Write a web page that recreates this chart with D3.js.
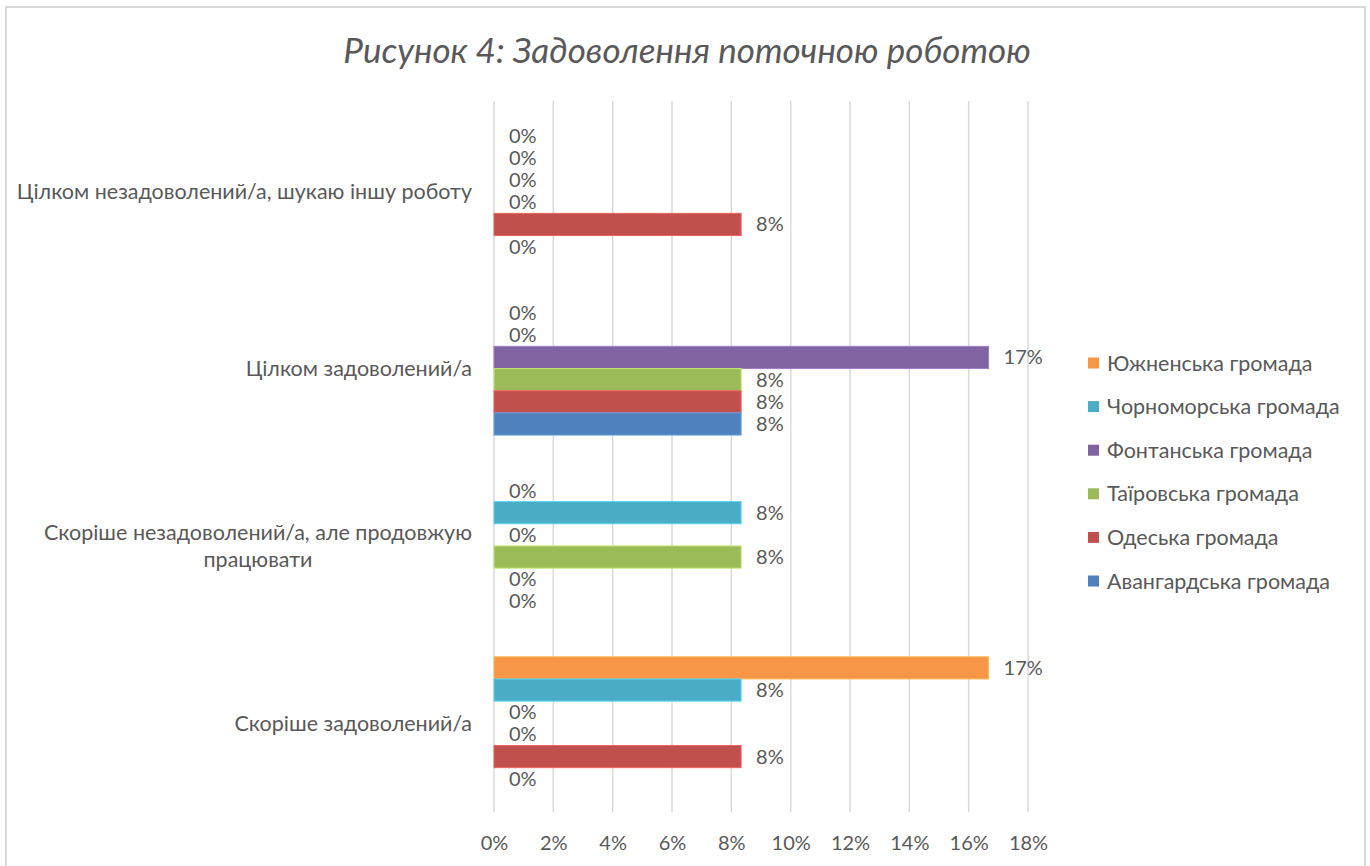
<!doctype html>
<html>
<head>
<meta charset="utf-8">
<style>
    body { margin: 0; background: #fff; }
    svg text { font-family: Lato, "Open Sans", sans-serif; fill: #595959; }
</style>
<script src="https://d3js.org/d3.v7.min.js"></script>
</head>
<body>
<svg width="1370" height="866"></svg>
<script>
// categories, top to bottom as drawn
var categories = [
    "Цілком незадоволений/а, шукаю іншу роботу",
    "Цілком задоволений/а",
    "Скоріше незадоволений/а, але продовжую працювати",
    "Скоріше задоволений/а"
];
// series, top to bottom inside each group (same order as legend)
var seriesNames = [
    "Южненська громада",
    "Чорноморська громада",
    "Фонтанська громада",
    "Таїровська громада",
    "Одеська громада",
    "Авангардська громада"
];
var seriesColors = ["#f79646", "#4bacc6", "#8064a2", "#9bbb59", "#c0504d", "#4f81bd"];

// share of respondents per series, one value per category (same order as categories)
var yuzhne      = [0,      0,      0,      0.1667];
var chornomorsk = [0,      0,      0.0833, 0.0833];
var fontanka    = [0,      0.1667, 0,      0];
var tairove     = [0,      0.0833, 0.0833, 0];
var odesa       = [0.0833, 0.0833, 0,      0.0833];
var avangard    = [0,      0.0833, 0,      0];
var seriesValues = [yuzhne, chornomorsk, fontanka, tairove, odesa, avangard];

var xTicks = [0, 0.02, 0.04, 0.06, 0.08, 0.10, 0.12, 0.14, 0.16, 0.18];

var svg = d3.select("svg");

// chart frame
svg.append("rect")
   .attr("x", 6).attr("y", 7)
   .attr("width", 1359).attr("height", 880)
   .attr("fill", "#fff")
   .attr("stroke", "#d9d9d9")
   .attr("stroke-width", 2);

// title
svg.append("text")
   .attr("x", 687).attr("y", 63)
   .attr("text-anchor", "middle")
   .style("font-size", "35px")
   .style("font-style", "italic")
   .text("Рисунок 4: Задоволення поточною роботою");

var xScale = d3.scaleLinear().domain([0, 0.18]).range([494, 1028]);
var yScale = d3.scaleBand().domain(categories).range([102.5, 812]);
var inner = d3.scaleBand().domain(seriesNames).range([0, yScale.bandwidth()])
              .paddingInner(0).paddingOuter(1);

// gridlines
svg.append("g")
   .selectAll("line")
   .data(xTicks)
   .enter().append("line")
   .attr("x1", function(d) { return xScale(d); })
   .attr("x2", function(d) { return xScale(d); })
   .attr("y1", 101).attr("y2", 812)
   .attr("stroke", "#d9d9d9")
   .attr("stroke-width", 1.5);

// x axis labels
var xAxis = svg.append("g")
   .attr("transform", "translate(0,812)")
   .call(d3.axisBottom(xScale).tickValues(xTicks).tickFormat(d3.format(".0%")).tickSize(0).tickPadding(24));
xAxis.select(".domain").remove();
xAxis.selectAll("text")
     .style("font-size", "20px")
     .attr("fill", "#595959")
     .style("font-family", "Lato, sans-serif");

// category labels (the long one wraps before its last word)
var catGroup = svg.append("g");
categories.forEach(function(c) {
    var cy = yScale(c) + yScale.bandwidth() / 2;
    var lines = [c];
    if (c.length > 45) {
        var cut = c.lastIndexOf(" ");
        lines = [c.slice(0, cut), c.slice(cut + 1)];
    }
    var t = catGroup.append("text")
       .attr("text-anchor", "middle")
       .style("font-size", "21.5px");
    lines.forEach(function(l, i) {
        t.append("tspan")
         .attr("x", 0)
         .attr("y", cy + (i - (lines.length - 1) / 2) * 27)
         .attr("dy", "0.35em")
         .text(l);
    });
    // right-align the block, lines centred on each other
    var w = t.node().getBBox().width;
    t.selectAll("tspan").attr("x", 472 - w / 2);
});

// bars
var rows = [];
seriesNames.forEach(function(s, si) {
    categories.forEach(function(c, ci) {
        rows.push({ series: s, cat: c, value: seriesValues[si][ci], color: seriesColors[si] });
    });
});

svg.append("g")
   .selectAll("rect")
   .data(rows.filter(function(d) { return d.value > 0; }))
   .enter().append("rect")
   .attr("x", xScale(0))
   .attr("y", function(d) { return yScale(d.cat) + inner(d.series); })
   .attr("width", function(d) { return xScale(d.value) - xScale(0); })
   .attr("height", inner.bandwidth())
   .attr("fill", function(d) { return d.color; })
   .attr("stroke", function(d) { return d3.color(d.color).brighter(0.6); })
   .attr("stroke-width", 1);

// data labels
svg.append("g")
   .selectAll("text")
   .data(rows)
   .enter().append("text")
   .attr("x", function(d) { return xScale(d.value) + 15; })
   .attr("y", function(d) { return yScale(d.cat) + inner(d.series) + inner.bandwidth() / 2; })
   .attr("dy", "0.35em")
   .style("font-size", "20px")
   .text(function(d) { return d3.format(".0%")(d.value); });

// legend
var legend = svg.append("g")
   .selectAll("g")
   .data(seriesNames)
   .enter().append("g")
   .attr("transform", function(d, i) { return "translate(1088," + (363 + i * 43.6) + ")"; });
legend.append("rect")
   .attr("x", 0).attr("y", -5.5)
   .attr("width", 11).attr("height", 11)
   .attr("fill", function(d, i) { return seriesColors[i]; });
legend.append("text")
   .attr("x", 19).attr("dy", "0.35em")
   .style("font-size", "21.5px")
   .text(function(d) { return d; });
</script>
</body>
</html>
